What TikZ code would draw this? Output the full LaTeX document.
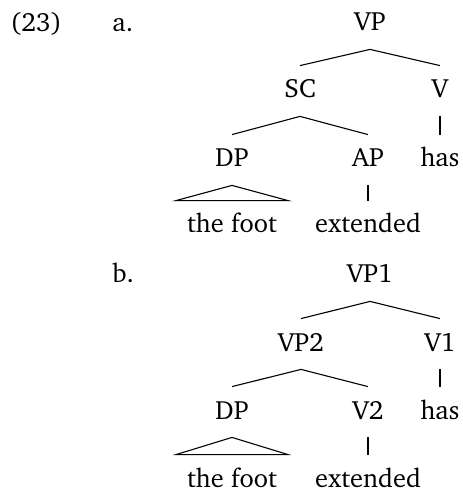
\documentclass[tikz,border=0pt]{standalone}
\usepackage[T1]{fontenc}
\usepackage{charter}
\begin{document}
\begin{tikzpicture}[x=0.5pt,y=-0.5pt,
  lab/.style={anchor=base,inner sep=0pt,text height=16pt,text depth=9pt,font=\fontsize{13.2}{16}\selectfont},
  num/.style={anchor=base west,inner sep=0pt,font=\fontsize{13.2}{16}\selectfont},
  edge/.style={line width=0.55pt}]
\useasboundingbox (0,0) rectangle (462,490);
% (a)
\node[num] (ex) at (10,32) {(23)};
\node[num] (la) at (112,32) {a.};
\node[lab] (VPa) at (370,31) {VP};
\node[lab] (SCa) at (300,98) {SC};
\node[lab] (Va) at (440,98) {V};
\node[lab] (DPa) at (232,167) {DP};
\node[lab] (APa) at (368,167) {AP};
\node[lab] (hasa) at (440,167) {has};
\node[lab] (foota) at (232,233) {the foot};
\node[lab] (exta) at (368,233) {extended};
\draw[edge] (SCa.north) -- (VPa.south) -- (Va.north);
\draw[edge] (DPa.north) -- (SCa.south) -- (APa.north);
\draw[edge] (Va.south) -- (hasa.north);
\draw[edge] (APa.south) -- (exta.north);
\draw[edge] (DPa.south) -- ([xshift=-28pt]foota.north) -- ([xshift=28pt]foota.north) -- cycle;
% (b)
\node[num] (lb) at (112,283) {b.};
\node[lab] (VPb) at (370,283) {VP1};
\node[lab] (VP2) at (301,351) {VP2};
\node[lab] (V1) at (440,351) {V1};
\node[lab] (DPb) at (232,419) {DP};
\node[lab] (V2) at (368,419) {V2};
\node[lab] (hasb) at (440,419) {has};
\node[lab] (footb) at (232,487) {the foot};
\node[lab] (extb) at (368,487) {extended};
\draw[edge] (VP2.north) -- (VPb.south) -- (V1.north);
\draw[edge] (DPb.north) -- (VP2.south) -- (V2.north);
\draw[edge] (V1.south) -- (hasb.north);
\draw[edge] (V2.south) -- (extb.north);
\draw[edge] (DPb.south) -- ([xshift=-28pt]footb.north) -- ([xshift=28pt]footb.north) -- cycle;
\end{tikzpicture}
\end{document}
